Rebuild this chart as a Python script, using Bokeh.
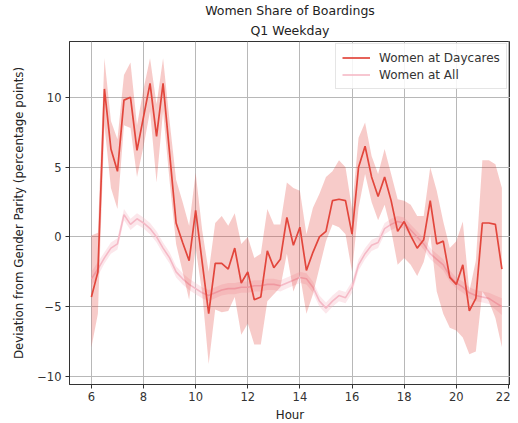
from bokeh.plotting import figure
from bokeh.models import (ColumnDataSource, Legend, LegendItem, FixedTicker,
                          CustomJSTickFormatter, Title, Range1d)
from bokeh.embed import file_html
from bokeh.resources import INLINE

hours = [6.0, 6.25, 6.5, 6.75, 7.0, 7.25, 7.5, 7.75, 8.0, 8.25, 8.5, 8.75,
         9.0, 9.25, 9.5, 9.75, 10.0, 10.25, 10.5, 10.75, 11.0, 11.25, 11.5, 11.75,
         12.0, 12.25, 12.5, 12.75, 13.0, 13.25, 13.5, 13.75, 14.0, 14.25, 14.5, 14.75,
         15.0, 15.25, 15.5, 15.75, 16.0, 16.25, 16.5, 16.75, 17.0, 17.25, 17.5, 17.75,
         18.0, 18.25, 18.5, 18.75, 19.0, 19.25, 19.5, 19.75, 20.0, 20.25, 20.5, 20.75,
         21.0, 21.25, 21.5, 21.75]

daycare_mean = [-4.3, -2.5, 10.6, 6.3, 4.7, 9.8, 10.0, 6.2, 8.6, 11.0, 7.2, 11.0,
                6.0, 1.0, -0.4, -1.7, 1.9, -1.8, -5.5, -1.9, -1.9, -2.3, -0.8, -3.3,
                -2.5, -4.5, -4.3, -1.0, -2.2, -1.6, 1.4, -0.6, 0.7, -2.4, -1.1, 0.0,
                0.4, 2.6, 2.7, 2.6, 0.2, 5.0, 6.5, 4.3, 2.9, 4.3, 2.6, 0.4,
                1.1, 0.1, -0.8, -0.2, 2.6, -0.5, -0.3, -2.9, -3.4, -2.0, -5.3, -4.4,
                1.0, 1.0, 0.9, -2.3]
daycare_lo = [-7.9, -5.5, 8.0, 3.5, 2.0, 8.0, 7.8, 4.3, 6.5, 9.0, 3.9, 9.0,
              4.0, -0.5, -2.5, -4.5, -0.8, -4.0, -9.1, -5.2, -5.4, -5.3, -4.3, -7.0,
              -6.2, -7.7, -7.7, -4.6, -4.1, -3.6, -1.2, -3.9, -2.7, -5.5, -4.1, -2.2,
              -0.3, 0.9, 0.7, 0.2, -2.5, 2.1, 4.5, 2.5, 1.2, 2.3, 0.5, -2.0,
              -1.5, -2.0, -2.8, -1.8, 0.2, -3.9, -5.5, -6.5, -6.7, -7.2, -8.4, -8.2,
              -3.9, -4.6, -5.8, -7.9]
daycare_hi = [0.1, 0.3, 12.8, 8.3, 7.0, 11.6, 12.5, 8.0, 10.6, 12.8, 9.5, 12.8,
              8.3, 4.1, 2.5, 0.8, 4.6, 0.5, -2.5, 1.0, 1.5, 0.8, 1.7, -0.5,
              0.0, -1.5, -1.2, 2.0, 0.9, 0.9, 3.9, 3.5, 3.3, 0.2, 2.1, 3.1,
              4.3, 4.7, 5.5, 5.0, 2.0, 7.1, 8.2, 5.8, 4.5, 6.3, 4.5, 2.7,
              2.6, 2.3, 1.5, 1.5, 5.0, 3.3, 1.1, -0.8, -0.3, 1.1, -3.9, -1.7,
              5.5, 5.5, 5.2, 3.5]

all_mean = [-3.0, -2.3, -1.5, -0.8, -0.5, 1.6, 0.9, 1.3, 1.0, 0.6, 0.0, -0.8,
            -1.5, -2.5, -3.0, -3.4, -3.7, -4.0, -4.2, -4.0, -3.8, -3.7, -3.7, -3.6,
            -3.6, -3.5, -3.5, -3.4, -3.4, -3.5, -3.3, -3.1, -2.9, -3.0, -3.6, -4.6,
            -5.1, -4.6, -4.2, -4.35, -3.6, -2.0, -1.2, -0.6, -0.4, 0.6, 0.9, 1.1,
            1.0, 0.5, 0.0, -0.5, -1.2, -1.6, -2.0, -2.8, -3.3, -3.6, -4.0, -4.2,
            -4.3, -4.4, -4.7, -5.0]
all_lo = [-3.5, -2.8, -1.9, -1.2, -0.9, 1.2, 0.5, 0.9, 0.6, 0.2, -0.4, -1.2,
          -1.9, -2.9, -3.4, -3.8, -4.1, -4.4, -4.6, -4.4, -4.2, -4.1, -4.1, -4.0,
          -4.0, -3.9, -3.9, -3.8, -3.8, -3.9, -3.7, -3.5, -3.3, -3.4, -4.0, -5.0,
          -5.5, -5.0, -4.6, -4.75, -4.0, -2.4, -1.6, -1.0, -0.8, 0.2, 0.5, 0.7,
          0.6, 0.1, -0.4, -0.9, -1.6, -2.0, -2.4, -3.2, -3.7, -4.0, -4.4, -4.6,
          -4.7, -4.8, -5.2, -5.6]
all_hi = [-2.5, -1.8, -1.1, -0.4, -0.1, 2.0, 1.3, 1.7, 1.4, 1.0, 0.4, -0.4,
          -1.1, -2.1, -2.6, -3.0, -3.3, -3.6, -3.8, -3.6, -3.4, -3.3, -3.3, -3.2,
          -3.2, -3.1, -3.1, -3.0, -3.0, -3.1, -2.9, -2.7, -2.5, -2.6, -3.2, -4.2,
          -4.7, -4.2, -3.8, -3.95, -3.2, -1.6, -0.8, -0.2, 0.0, 1.0, 1.3, 1.5,
          1.4, 0.9, 0.4, -0.1, -0.8, -1.2, -1.6, -2.4, -2.9, -3.2, -3.6, -3.8,
          -3.9, -4.0, -4.2, -4.4]

x_ticks = [6, 8, 10, 12, 14, 16, 18, 20, 22]
y_ticks = [-10, -5, 0, 5, 10]

title_main = "Women Share of Boardings"
title_sub = "Q1 Weekday"
x_label = "Hour"
y_label = "Deviation from Gender Parity (percentage points)"
label_daycare = "Women at Daycares"
label_all = "Women at All"

RED = "#e2463c"
PINK = "#f5b9c6"
FONT = "DejaVu Sans"

src = ColumnDataSource(dict(x=hours, dm=daycare_mean, dlo=daycare_lo, dhi=daycare_hi,
                            am=all_mean, alo=all_lo, ahi=all_hi))

p = figure(frame_width=441, frame_height=343, output_backend="svg",
           toolbar_location=None, x_range=Range1d(5.16, 22.08),
           y_range=Range1d(-10.57, 14.0), min_border_left=69, min_border_right=0,
           min_border_top=0, min_border_bottom=32, background_fill_color="white",
           border_fill_color="white")

p.add_layout(Title(text=title_sub, align="center", text_font=FONT,
                   text_font_size="12.5px", text_font_style="normal",
                   text_line_height=1.0,
                   text_color="#222222", standoff=7), "above")
p.add_layout(Title(text=title_main, align="center", text_font=FONT,
                   text_font_size="12.5px", text_font_style="normal",
                   text_line_height=1.0,
                   text_color="#222222", standoff=0), "above")

# Women at All
p.varea(x="x", y1="alo", y2="ahi", source=src, fill_color=PINK, fill_alpha=0.35)
r_all = p.line(x="x", y="am", source=src, line_color=PINK, line_width=1.6)
# Women at Daycares
p.varea(x="x", y1="dlo", y2="dhi", source=src, fill_color=RED, fill_alpha=0.28)
r_day = p.line(x="x", y="dm", source=src, line_color=RED, line_width=1.7)

legend = Legend(items=[LegendItem(label=label_daycare, renderers=[r_day]),
                       LegendItem(label=label_all, renderers=[r_all])],
                location=(266, 295), margin=0, padding=6, spacing=2,
                glyph_width=28, glyph_height=15, label_height=15,
                label_standoff=9, label_text_font=FONT,
                label_text_font_size="12px", label_text_color="#333333",
                border_line_color="#cccccc", border_line_width=1,
                background_fill_alpha=0.85)
p.add_layout(legend)

for ax in (p.xaxis[0], p.yaxis[0]):
    ax.major_label_text_font = FONT
    ax.major_label_text_font_size = "11.5px"
    ax.major_label_text_color = "#333333"
    ax.axis_label_text_font = FONT
    ax.axis_label_text_font_size = "11.8px"
    ax.axis_label_text_font_style = "normal"
    ax.axis_label_text_color = "#222222"
    ax.minor_tick_line_color = None
    ax.major_tick_in = 0
    ax.major_tick_out = 4
    ax.major_tick_line_color = "#333333"
    ax.axis_line_color = "#333333"

p.xaxis[0].ticker = FixedTicker(ticks=x_ticks)
p.yaxis[0].ticker = FixedTicker(ticks=y_ticks)
p.xaxis[0].axis_label = x_label
p.yaxis[0].axis_label = y_label
p.xaxis[0].major_label_standoff = 3
p.xaxis[0].axis_label_standoff = 4
p.yaxis[0].major_label_standoff = 4
p.yaxis[0].axis_label_standoff = 8
p.yaxis[0].formatter = CustomJSTickFormatter(
    code="return tick < 0 ? '\u2212' + Math.abs(tick) : String(tick);")

p.xgrid.ticker = FixedTicker(ticks=x_ticks)
p.ygrid.ticker = FixedTicker(ticks=y_ticks)
p.grid.grid_line_color = "#b8b8b8"
p.grid.grid_line_width = 1
p.outline_line_color = "#333333"
p.outline_line_width = 1

open("out.html", "w").write(file_html(p, INLINE))
